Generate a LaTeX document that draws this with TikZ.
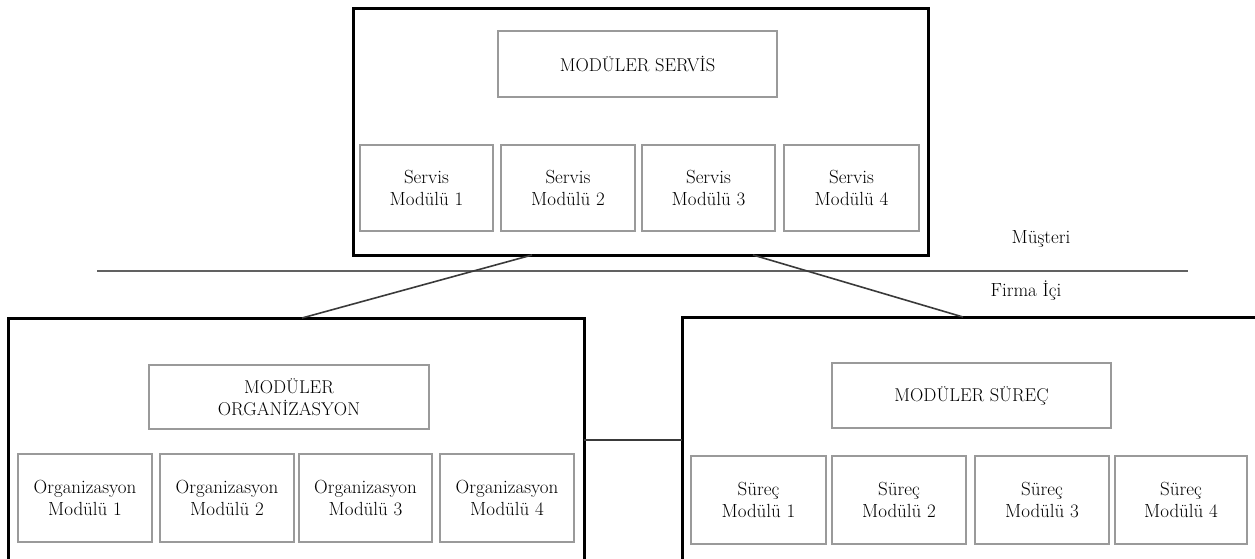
\documentclass[tikz,border=0pt]{standalone}
\usepackage{fontspec}
\setmainfont{Latin Modern Roman}
\usetikzlibrary{calc}
\definecolor{innergray}{HTML}{9A9A9A}
\definecolor{linegray}{HTML}{3A3A3A}
\tikzset{
  bigbox/.style={draw=black, line width=3pt, fill=white, outer sep=0pt, inner sep=0pt},
  modbox/.style={draw=innergray, line width=1.4pt, fill=white, outer sep=0pt, inner sep=0pt,
    align=center, font=\fontsize{19}{22}\selectfont},
  hdrbox/.style={modbox, font=\fontsize{18.5}{22}\selectfont},
  conn/.style={draw=linegray, line width=1.6pt},
  divider/.style={draw=linegray!80, line width=1.8pt},
  lbl/.style={inner sep=0pt, font=\fontsize{19}{22}\selectfont}
}
\begin{document}
\begin{tikzpicture}[x=1pt, y=-1pt]
\useasboundingbox (0,0) rectangle (1255,558);
\clip (0,0) rectangle (1255,558);
% top box
\node[bigbox, minimum width=575pt, minimum height=247pt] (top) at (640.5,131.5) {};
\node[hdrbox, minimum width=279pt, minimum height=66pt] (sh) at (637.5,64) {MODÜLER SERVİS};
\node[modbox, minimum width=133pt, minimum height=86pt] (s1) at (426.5,188) {Servis\\Modülü 1};
\node[modbox, minimum width=134pt, minimum height=86pt] (s2) at (568,188) {Servis\\Modülü 2};
\node[modbox, minimum width=133pt, minimum height=86pt] (s3) at (708.5,188) {Servis\\Modülü 3};
\node[modbox, minimum width=135pt, minimum height=86pt] (s4) at (851.5,188) {Servis\\Modülü 4};
% left box
\node[bigbox, minimum width=576pt, minimum height=302pt] (lft) at (296,469) {};
\node[hdrbox, minimum width=280pt, minimum height=64pt] (oh) at (289,397) {MODÜLER\\ORGANİZASYON};
\node[modbox, minimum width=134pt, minimum height=88pt] (o1) at (85,498) {Organizasyon\\Modülü 1};
\node[modbox, minimum width=134pt, minimum height=88pt] (o2) at (227,498) {Organizasyon\\Modülü 2};
\node[modbox, minimum width=133pt, minimum height=88pt] (o3) at (365.5,498) {Organizasyon\\Modülü 3};
\node[modbox, minimum width=134pt, minimum height=88pt] (o4) at (507,498) {Organizasyon\\Modülü 4};
% right box
\node[bigbox, minimum width=618pt, minimum height=303pt] (rgt) at (991,468.5) {};
\node[hdrbox, minimum width=279pt, minimum height=65pt] (ph) at (971.5,395.5) {MODÜLER SÜREÇ};
\node[modbox, minimum width=135pt, minimum height=88pt] (p1) at (758.5,500) {Süreç\\Modülü 1};
\node[modbox, minimum width=134pt, minimum height=88pt] (p2) at (899,500) {Süreç\\Modülü 2};
\node[modbox, minimum width=134pt, minimum height=88pt] (p3) at (1042,500) {Süreç\\Modülü 3};
\node[modbox, minimum width=132pt, minimum height=88pt] (p4) at (1181,500) {Süreç\\Modülü 4};
% divider
\coordinate (dl) at (97,271);
\coordinate (dr) at (1188,271);
\draw[divider] (dl) -- (dr);
\node[lbl] (mus) at (1041,239) {Müşteri};
\node[lbl] (fir) at (1026,291) {Firma İçi};
% connectors
\draw[conn] ([xshift=179pt]top.south west) -- ([xshift=294pt]lft.north west);
\draw[conn] ([xshift=400pt]top.south west) -- ([xshift=281pt]rgt.north west);
\coordinate (lc) at ([yshift=-122pt]lft.north east);
\draw[conn] (lc) -- (lc -| rgt.west);
\end{tikzpicture}
\end{document}
